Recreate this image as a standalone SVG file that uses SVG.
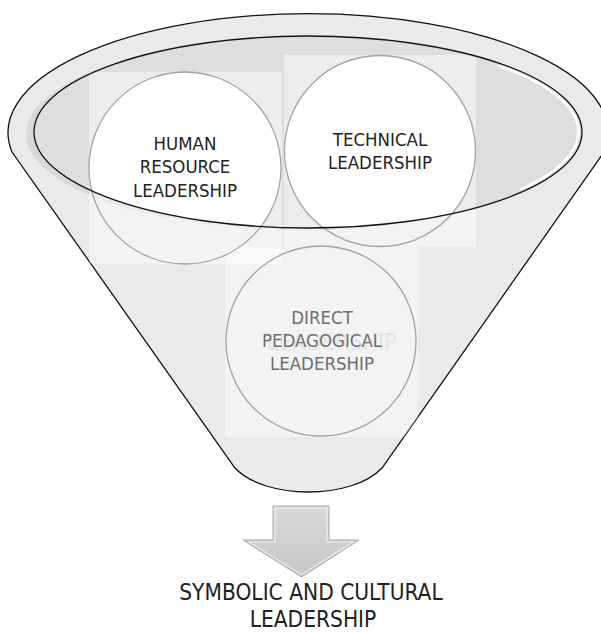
<svg xmlns="http://www.w3.org/2000/svg" width="601" height="633" viewBox="0 0 601 633">
  <style>
    .lbl { font-family: 'DejaVu Sans Condensed', 'DejaVu Sans', sans-serif; font-stretch: condensed; font-size: 18.5px; text-anchor: middle; fill: #222222; }
    .dim { fill: #6e6e6e; }
    .big { font-size: 22.5px; }
    .ring { fill: none; stroke: #a3a3a3; stroke-width: 1.3; }
    .box { fill: #ffffff; fill-opacity: 0.45; }
  </style>
  <defs>
    <clipPath id="funnelClip">
      <path d="M 12,152 A 300 119 0 1 1 604,152 L 382,468 C 352,500 265,500 235,468 Z"/>
    </clipPath>
    <clipPath id="innerClip">
      <ellipse cx="308" cy="132" rx="274" ry="96"/>
    </clipPath>
    <linearGradient id="arrowGrad" x1="0" y1="0" x2="0" y2="1">
      <stop offset="0" stop-color="#d9d9d9"/>
      <stop offset="1" stop-color="#c6c6c6"/>
    </linearGradient>
  </defs>

  <g id="funnel">
    <path d="M 12,152 A 300 119 0 1 1 604,152 L 382,468 C 352,500 265,500 235,468 Z" fill="#eaeaea" stroke="#111" stroke-width="1.3"/>
    <g clip-path="url(#funnelClip)">
      <ellipse cx="302" cy="134" rx="276" ry="96" fill="#d9d9d9"/>
      <ellipse cx="308" cy="132" rx="274" ry="96" fill="#dedede"/>
      <rect class="box" x="89" y="72" width="193" height="192"/>
      <rect class="box" x="284" y="55" width="192" height="192"/>
      <rect class="box" x="225" y="247" width="193" height="190"/>
    </g>
    <path d="M 499,66 A 271 93 0 0 1 521,189" fill="none" stroke="#ffffff" stroke-width="2.5" stroke-linecap="round"/>
  </g>

  <g id="node-hr">
    <circle cx="185" cy="168" r="96" fill="#ffffff" clip-path="url(#innerClip)"/>
    <circle class="ring" cx="185" cy="168" r="96"/>
    <text class="lbl" x="185" y="150">HUMAN</text>
    <text class="lbl" x="185" y="173">RESOURCE</text>
    <text class="lbl" x="185" y="197">LEADERSHIP</text>
  </g>

  <g id="node-tech">
    <circle cx="380" cy="151" r="95.5" fill="#ffffff" clip-path="url(#innerClip)"/>
    <circle class="ring" cx="380" cy="151" r="95.5"/>
    <text class="lbl" x="380" y="146">TECHNICAL</text>
    <text class="lbl" x="380" y="169">LEADERSHIP</text>
  </g>

  <ellipse id="inner-rim" cx="308" cy="132" rx="274" ry="96" fill="none" stroke="#111" stroke-width="1.3"/>

  <g id="node-direct">
    <circle class="ring" cx="321" cy="341" r="95"/>
    <text class="lbl" x="332" y="350" style="font-size:23px; fill:#e6e6e6">LEADERSHIP</text>
    <text class="lbl dim" x="322" y="324">DIRECT</text>
    <text class="lbl dim" x="322" y="347">PEDAGOGICAL</text>
    <text class="lbl dim" x="322" y="370">LEADERSHIP</text>
  </g>

  <g id="connectors">
    <path d="M 273,506 L 329,506 L 329,540 L 359,540 L 301.5,577 L 243,540 L 273,540 Z" fill="url(#arrowGrad)" stroke="#a9a9a9" stroke-width="1"/>
    <path d="M 275,508 L 327,508 L 327,542 L 353,542 L 301.5,574.5 L 249,542 L 275,542 Z" fill="none" stroke="#f4f4f4" stroke-width="1.2" stroke-opacity="0.8"/>
  </g>

  <g id="node-result">
    <text class="lbl big" x="311" y="600">SYMBOLIC AND CULTURAL</text>
    <text class="lbl big" x="313" y="627">LEADERSHIP</text>
  </g>
</svg>
